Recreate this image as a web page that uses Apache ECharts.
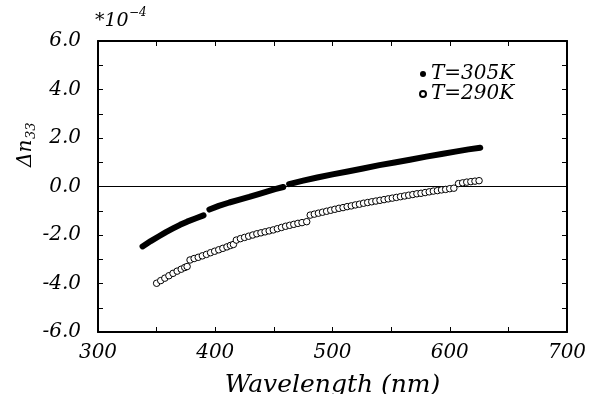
<!DOCTYPE html>
<html>
<head>
<meta charset="utf-8">
<script src="https://cdn.jsdelivr.net/npm/echarts@6/dist/echarts.min.js"></script>
<style>html,body{margin:0;padding:0;background:#fff}#c{width:603px;height:394px}</style>
</head>
<body>
<div id="c"></div>
<script>
// ---- data ----
var xTicks = [300, 400, 500, 600, 700];
var yTicks = [-6, -4, -2, 0, 2, 4, 6];
var seriesNames = ['T=305K', 'T=290K'];
// T=305K (filled), three measured segments [wavelength nm, value *1e-4]
var t305a = [[338,-2.47],[345,-2.25],[352,-2.05],[358,-1.88],[364,-1.73],[370,-1.58],[376,-1.45],[383,-1.32],[390,-1.19]];
var t305b = [[395,-0.95],[403,-0.80],[412,-0.66],[420,-0.55],[429,-0.43],[437,-0.31],[444,-0.21],[451,-0.11],[458,-0.02]];
var t305c = [[463,0.10],[475,0.24],[487,0.37],[500,0.50],[513,0.62],[526,0.74],[540,0.88],[553,0.99],[566,1.10],[580,1.23],[593,1.34],[606,1.45],[616,1.53],[626,1.60]];
// T=290K (open circles)
var t290 = [
 [350,-3.99],[353.5,-3.88],[357,-3.78],[360.5,-3.68],[364,-3.58],[367.5,-3.49],[371,-3.41],[374,-3.34],[376,-3.30],
 [378.5,-3.03],[382,-2.97],[385.5,-2.92],[389,-2.86],[392.5,-2.80],[396,-2.73],[399.5,-2.67],[403,-2.61],[406.5,-2.55],[410,-2.49],[413,-2.43],[415.5,-2.39],
 [418,-2.21],[421.5,-2.15],[425,-2.10],[428.5,-2.05],[432,-2.00],[435.5,-1.95],[439,-1.91],[442.5,-1.87],[446,-1.83],[449.5,-1.79],[453,-1.74],[456.5,-1.69],[460,-1.64],[463.5,-1.60],[467,-1.56],[470.5,-1.52],[474,-1.49],[478,-1.45],
 [481,-1.18],[484.5,-1.14],[488,-1.10],[491.5,-1.06],[495,-1.02],[498.5,-0.98],[502,-0.94],[505.5,-0.90],[509,-0.87],[512.5,-0.83],[516,-0.80],[519.5,-0.76],[523,-0.73],[526.5,-0.69],[530,-0.66],[533.5,-0.63],[537,-0.60],[540.5,-0.57],[544,-0.54],[547.5,-0.51],[551,-0.48],[554.5,-0.45],[558,-0.42],[561.5,-0.39],[565,-0.36],[568.5,-0.33],[572,-0.30],[575.5,-0.28],[579,-0.25],[582.5,-0.22],[586,-0.19],[589.5,-0.17],[593,-0.14],[596.5,-0.12],[600,-0.09],[603.5,-0.07],
 [607.5,0.12],[611,0.15],[614.5,0.18],[618,0.20],[621.5,0.22],[625,0.24]
];

var FONT = 'DejaVu Serif';
var chart = echarts.init(document.getElementById('c'), null, {renderer: 'canvas'});
var lineSeg = function (d, name) {
  return {
    type: 'line', name: name, data: d, showSymbol: false, symbol: 'circle',
    lineStyle: {color: '#000', width: 6, cap: 'round', join: 'round'},
    itemStyle: {color: '#000'}, z: 5, silent: true
  };
};
chart.setOption({
  animation: false,
  backgroundColor: '#fff',
  grid: {left: 98, right: 36, top: 41, bottom: 62, containLabel: false, outerBoundsMode: 'none'},
  legend: {
    orient: 'vertical', left: 414, top: 59, itemWidth: 6, itemHeight: 6, itemGap: 0,
    textStyle: {fontFamily: FONT, fontStyle: 'italic', fontSize: 20, color: '#000', lineHeight: 20},
    data: [{name: seriesNames[0], icon: 'circle'}, {name: seriesNames[1], icon: 'circle'}]
  },
  xAxis: [{
    type: 'value', min: xTicks[0], max: xTicks[xTicks.length - 1], interval: 100,
    axisLine: {onZero: false, lineStyle: {color: '#000', width: 2}},
    axisTick: {inside: true, length: 5, lineStyle: {color: '#000', width: 1}},
    minorTick: {show: true, splitNumber: 2, length: 5, lineStyle: {color: '#000', width: 1}},
    splitLine: {show: false},
    axisLabel: {margin: 11, fontFamily: FONT, fontStyle: 'italic', fontSize: 20, color: '#000'},
    name: 'Wavelength (nm)', nameLocation: 'middle', nameGap: 41,
    nameTextStyle: {fontFamily: FONT, fontStyle: 'italic', fontSize: 25, color: '#000'}
  }, {
    type: 'value', position: 'top', min: xTicks[0], max: xTicks[xTicks.length - 1], interval: 50,
    axisLine: {show: true, onZero: false, lineStyle: {color: '#000', width: 2}},
    axisTick: {inside: true, length: 5, lineStyle: {color: '#000', width: 1}},
    axisLabel: {show: false}, splitLine: {show: false}
  }],
  yAxis: [{
    type: 'value', min: yTicks[0], max: yTicks[yTicks.length - 1], interval: 2,
    axisLine: {show: true, onZero: false, lineStyle: {color: '#000', width: 2}},
    axisTick: {show: true, inside: true, length: 5, lineStyle: {color: '#000', width: 1}},
    minorTick: {show: true, splitNumber: 2, length: 5, lineStyle: {color: '#000', width: 1}},
    splitLine: {show: false},
    axisLabel: {margin: 17, fontFamily: FONT, fontStyle: 'italic', fontSize: 20, color: '#000',
      formatter: function (v) { return v.toFixed(1); }}
  }, {
    type: 'value', position: 'right', min: yTicks[0], max: yTicks[yTicks.length - 1], interval: 1,
    axisLine: {show: true, onZero: false, lineStyle: {color: '#000', width: 2}},
    axisTick: {show: true, inside: true, length: 5, lineStyle: {color: '#000', width: 1}},
    axisLabel: {show: false}, splitLine: {show: false}
  }],
  series: [
    lineSeg(t305a, seriesNames[0]),
    lineSeg(t305b, seriesNames[0]),
    lineSeg(t305c, seriesNames[0]),
    {
      type: 'scatter', name: seriesNames[1], data: t290, symbol: 'circle', symbolSize: 6.5,
      itemStyle: {color: '#fff', borderColor: '#000', borderWidth: 1, opacity: 1}, z: 4, silent: true,
      markLine: {
        silent: true, symbol: 'none', label: {show: false}, z: 1,
        lineStyle: {color: '#000', width: 1, type: 'solid'},
        data: [{yAxis: 0}]
      }
    }
  ],
  graphic: [
    {type: 'text', left: 95, top: 12, style: {text: '*10', fontFamily: FONT, fontStyle: 'italic', fontSize: 19, fill: '#000'}},
    {type: 'text', left: 129, top: 7, style: {text: '\u22124', fontFamily: FONT, fontStyle: 'italic', fontSize: 12, fill: '#000'}},
    {type: 'group', x: 26, y: 146, rotation: Math.PI / 2, children: [
      {type: 'text', x: -21, y: 0, style: {text: '\u0394n', fontFamily: FONT, fontStyle: 'italic', fontSize: 20, fill: '#000', verticalAlign: 'middle', align: 'left'}},
      {type: 'text', x: 7, y: 6, style: {text: '33', fontFamily: FONT, fontStyle: 'italic', fontSize: 13, fill: '#000', verticalAlign: 'middle', align: 'left'}}
    ]}
  ]
});
</script>
</body>
</html>
